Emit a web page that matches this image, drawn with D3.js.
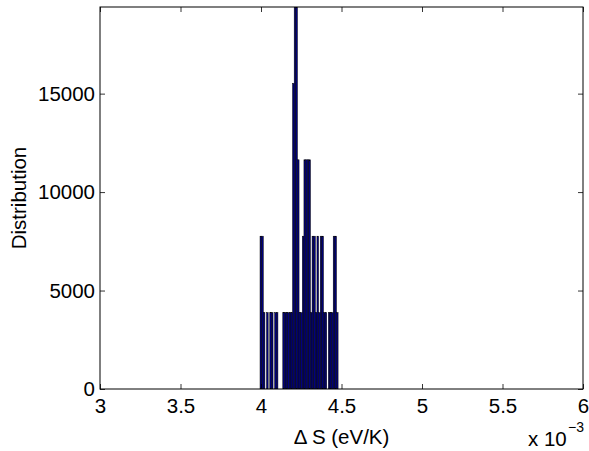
<!DOCTYPE html>
<html><head><meta charset="utf-8">
<script src="https://cdn.jsdelivr.net/npm/d3@7"></script>
<style>body{margin:0;background:#fff}svg{display:block}text{font-family:"Liberation Sans",Arial,Helvetica,sans-serif;fill:#000}</style>
</head><body><svg id="c" width="589" height="451"></svg>
<script>
// Data (x in units of 1e-3 eV/K)
const binStart = 3.994;
const binWidth = 0.0101;
const counts = [2,2,1,0,1,0,1,1,0,1,1,0,0,0,1,1,1,1,1,1,4,5,5,3,1,1,2,3,3,3,3,1,2,2,1,2,1,2,2,1,1,0,1,1,1,2,2,1];
const unitValue = 3880;
const xTicks = [3,3.5,4,4.5,5,5.5,6];
const yTicks = [0,5000,10000,15000];
const xDomain = [3,6];
const yDomain = [0,19400];

const svg = d3.select("#c");
const m = {l:100, r:583, t:7, b:389};
const x = d3.scaleLinear().domain(xDomain).range([m.l, m.r]);
const y = d3.scaleLinear().domain(yDomain).range([m.b, m.t]);

const bars = counts.map((c,i)=>({x0: binStart + i*binWidth, x1: binStart+(i+1)*binWidth, v: c*unitValue})).filter(d=>d.v>0);

svg.append("defs").append("clipPath").attr("id","clip").append("rect")
  .attr("x",m.l).attr("y",m.t).attr("width",m.r-m.l).attr("height",m.b-m.t);

svg.append("g").attr("clip-path","url(#clip)").selectAll("rect").data(bars).join("rect")
  .attr("x",d=>x(d.x0)).attr("width",d=>x(d.x1)-x(d.x0))
  .attr("y",d=>y(d.v)).attr("height",d=>y(0)-y(d.v))
  .attr("fill","#000080").attr("stroke","#000").attr("stroke-width",0.5);

const fs = 20.5;
const gx = svg.append("g").attr("transform",`translate(0,${m.b})`)
  .call(d3.axisBottom(x).tickValues(xTicks).tickSize(-5).tickPadding(10).tickFormat(d3.format("~g")));
const gxt = svg.append("g").attr("transform",`translate(0,${m.t})`)
  .call(d3.axisTop(x).tickValues(xTicks).tickSize(-5).tickFormat(""));
const gy = svg.append("g").attr("transform",`translate(${m.l},0)`)
  .call(d3.axisLeft(y).tickValues(yTicks).tickSize(-5).tickPadding(5).tickFormat(d3.format("d")));
const gyr = svg.append("g").attr("transform",`translate(${m.r},0)`)
  .call(d3.axisRight(y).tickValues(yTicks).tickSize(-5).tickFormat(""));
[gx,gxt,gy,gyr].forEach(g=>{
  g.select(".domain").remove();
  g.selectAll("line").attr("stroke","#000").attr("stroke-width",0.8);
  g.selectAll("text").attr("font-size",fs).attr("font-family","Liberation Sans, Arial, sans-serif").attr("fill","#000");
});
gx.selectAll("text").attr("dy","0.71em").attr("y",9);

svg.append("rect").attr("x",m.l).attr("y",m.t).attr("width",m.r-m.l).attr("height",m.b-m.t)
  .attr("fill","none").attr("stroke","#000").attr("stroke-width",1);

svg.append("text").attr("x",(m.l+m.r)/2).attr("y",444).attr("text-anchor","middle").attr("font-size",fs).text("\u0394 S (eV/K)");
svg.append("text").attr("transform",`translate(26,${(m.t+m.b)/2}) rotate(-90)`).attr("text-anchor","middle").attr("font-size",fs).text("Distribution");
svg.append("text").attr("x",528).attr("y",446).attr("font-size",fs).text("x 10");
svg.append("text").attr("x",568).attr("y",432).attr("font-size",14).text("\u22123");
</script></body></html>
